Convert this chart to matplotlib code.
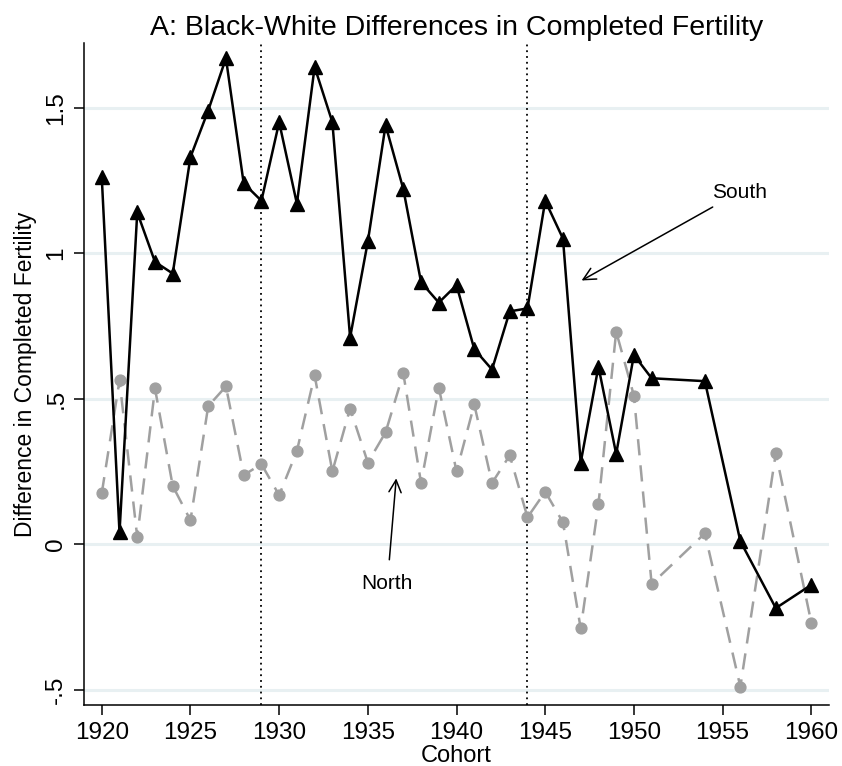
import matplotlib
matplotlib.use("Agg")
import matplotlib.pyplot as plt

plt.rcParams["font.family"] = ["Liberation Sans", "DejaVu Sans"]

# black-white gap in completed fertility by birth cohort
cohort = [1920, 1921, 1922, 1923, 1924, 1925, 1926, 1927, 1928, 1929,
          1930, 1931, 1932, 1933, 1934, 1935, 1936, 1937, 1938, 1939,
          1940, 1941, 1942, 1943, 1944, 1945, 1946, 1947, 1948, 1949,
          1950, 1951, 1954, 1956, 1958, 1960]
south = [1.26, 0.04, 1.14, 0.97, 0.93, 1.33, 1.49, 1.67, 1.24, 1.18,
         1.45, 1.17, 1.64, 1.45, 0.71, 1.04, 1.44, 1.22, 0.90, 0.83,
         0.89, 0.67, 0.60, 0.80, 0.81, 1.18, 1.05, 0.28, 0.61, 0.31,
         0.65, 0.57, 0.56, 0.01, -0.22, -0.14]
north = [0.175, 0.563, 0.024, 0.535, 0.20, 0.082, 0.474, 0.542, 0.237, 0.275,
         0.168, 0.32, 0.58, 0.25, 0.466, 0.28, 0.384, 0.587, 0.21, 0.538,
         0.25, 0.48, 0.21, 0.305, 0.092, 0.18, 0.075, -0.29, 0.137, 0.73,
         0.51, -0.137, 0.037, -0.49, 0.313, -0.27]

x_ticks = [1920, 1925, 1930, 1935, 1940, 1945, 1950, 1955, 1960]
y_ticks = [-0.5, 0, 0.5, 1, 1.5]
y_tick_labels = ["-.5", "0", ".5", "1", "1.5"]
breaks = [1929, 1944]

fig = plt.figure(figsize=(8.42, 7.66), dpi=100)
ax = fig.add_axes([0.0998, 0.0796, 0.8848, 0.8642])

for y in y_ticks:
    ax.axhline(y, color="#e8f0f2", lw=2.2, zorder=0)
for b in breaks:
    ax.axvline(b, color="black", lw=1.3, ls=(0, (1, 2.2)), zorder=1)

ax.plot(cohort, north, color="#a0a0a0", lw=1.8, ls=(0, (6.5, 4)),
        marker="o", ms=7.8, mfc="#a0a0a0", mec="#a0a0a0", zorder=2)
ax.plot(cohort, south, color="black", lw=1.8, marker="^", ms=9.5,
        mfc="black", mec="black", zorder=3)

ax.annotate("South", xy=(1947.05, 0.906), xytext=(1954.4, 1.21),
            fontsize=15, va="center", ha="left",
            arrowprops=dict(arrowstyle="->", color="black", lw=1.1,
                            mutation_scale=22, shrinkA=4, shrinkB=0))
ax.annotate("North", xy=(1936.6, 0.226), xytext=(1936.1, -0.134),
            fontsize=15, va="center", ha="center",
            arrowprops=dict(arrowstyle="->", color="black", lw=1.1,
                            mutation_scale=22, shrinkA=8, shrinkB=0))

ax.set_xlim(1919, 1961)
ax.set_ylim(-0.553, 1.722)
ax.set_xticks(x_ticks)
ax.set_yticks(y_ticks)
ax.set_yticklabels(y_tick_labels, rotation=90, va="center")
ax.tick_params(axis="both", labelsize=17.5, length=7, width=1.1,
               direction="out", pad=5)
ax.spines["top"].set_visible(False)
ax.spines["right"].set_visible(False)
ax.spines["left"].set_linewidth(1.1)
ax.spines["bottom"].set_linewidth(1.1)

ax.set_xlabel("Cohort", fontsize=17, labelpad=1)
ax.set_ylabel("Difference in Completed Fertility", fontsize=16.5, labelpad=6)
ax.set_title("A: Black-White Differences in Completed Fertility",
             fontsize=20.5, pad=6)

fig.savefig("out.png", dpi=100)
